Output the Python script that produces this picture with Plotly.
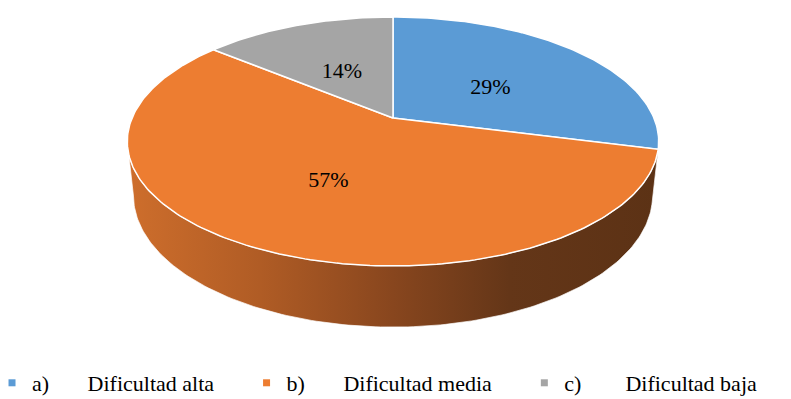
import numpy as np
import plotly.graph_objects as go

# Survey results: perceived difficulty
categories = ["a)", "b)", "c)"]
descriptions = ["Dificultad alta", "Dificultad media", "Dificultad baja"]
percentages = [29, 57, 14]

slice_colors = ["#5B9BD5", "#ED7D31", "#A5A5A5"]
side_scales = [
    [[0, "rgb(70,112,155)"], [1, "rgb(38,66,98)"]],
    [[0, "rgb(206,110,44)"], [0.25, "rgb(176,92,37)"], [0.5, "rgb(136,70,30)"],
     [0.72, "rgb(100,54,24)"], [1, "rgb(92,50,21)"]],
    [[0, "rgb(140,140,140)"], [1, "rgb(80,80,80)"]],
]

W, H = 791, 399
SERIF = "Liberation Serif"

# perspective camera for the 3-D pie (unit radius disc, top face at z=0)
CX, CY = 393.0, 118.0
FOCAL = 1229.0
DIST = 4.71
TILT = np.arcsin(0.46)
THICK = 0.235
LABEL_R = 0.5


def project(X, Y, Z):
    yc = Y * np.sin(TILT) + Z * np.cos(TILT)
    zc = DIST + Y * np.cos(TILT) - Z * np.sin(TILT)
    return CX + FOCAL * X / zc, CY - FOCAL * yc / zc


def arc(a_from, a_to, z, r=1.0):
    n = max(int(abs(a_to - a_from) / 1.0) + 2, 3)
    t = np.radians(np.linspace(a_from, a_to, n))
    return project(r * np.cos(t), r * np.sin(t), np.full(n, z))


total = float(sum(percentages))
cum = np.concatenate([[0.0], np.cumsum(percentages) / total])
# first slice starts at 12 o'clock, slices run clockwise
starts = 90.0 - 360.0 * cum[:-1]
ends = 90.0 - 360.0 * cum[1:]

# visible part of the rim (between the two silhouette points)
half = np.degrees(np.arccos(np.cos(TILT) / DIST))
vis_lo, vis_hi = -90.0 - half, -90.0 + half

fig = go.Figure()

# side walls
for i in range(len(percentages)):
    lo = max(ends[i], vis_lo)
    hi = min(starts[i], vis_hi)
    if lo >= hi:
        continue
    xt, yt = arc(hi, lo, 0.0)
    xb, yb = arc(lo, hi, -THICK)
    xs = np.concatenate([xt, xb, xt[:1]])
    ys = np.concatenate([yt, yb, yt[:1]])
    fig.add_trace(go.Scatter(
        x=xs, y=ys, mode="lines", fill="toself",
        fillgradient=dict(type="horizontal", colorscale=side_scales[i]),
        line=dict(color="rgba(255,255,255,0.85)", width=0.8),
        hoverinfo="skip", showlegend=False))

# top faces
for i in range(len(percentages)):
    xa, ya = arc(starts[i], ends[i], 0.0)
    x0, y0 = project(0.0, 0.0, 0.0)
    xs = np.concatenate([[x0], xa, [x0]])
    ys = np.concatenate([[y0], ya, [y0]])
    fig.add_trace(go.Scatter(
        x=xs, y=ys, mode="lines", fill="toself", fillcolor=slice_colors[i],
        line=dict(color="white", width=1.5),
        hoverinfo="skip", showlegend=False))

# percentage labels
mid = np.radians((starts + ends) / 2.0)
lx, ly = project(LABEL_R * np.cos(mid), LABEL_R * np.sin(mid), np.zeros(len(mid)))
fig.add_trace(go.Scatter(
    x=lx, y=ly + 5, mode="text",
    text=[f"{p}%" for p in percentages],
    textfont=dict(family=SERIF, size=22, color="black"),
    hoverinfo="skip", showlegend=False))

# legend entries: tab-like gap after the letter, padding before the next entry
nb = "\u00a0"
lead_gaps = [7, 7, 8]
trail_gaps = [5, 5, 0]
for cat, desc, col, lg, tg in zip(categories, descriptions, slice_colors, lead_gaps, trail_gaps):
    fig.add_trace(go.Scatter(
        x=[None], y=[None], mode="markers",
        marker=dict(symbol="square", size=7, color=col),
        name=f"{cat}{nb * lg}{desc}{nb * tg}", showlegend=True))

fig.update_layout(
    width=W, height=H,
    margin=dict(l=0, r=0, t=0, b=0, autoexpand=False),
    paper_bgcolor="white", plot_bgcolor="white",
    font=dict(family=SERIF, color="black"),
    xaxis=dict(range=[0, W], visible=False, fixedrange=True),
    yaxis=dict(range=[H, 0], visible=False, fixedrange=True),
    hovermode=False,
    legend=dict(
        orientation="h", x=-0.0101, xanchor="left", y=-0.0125, yanchor="bottom",
        font=dict(family=SERIF, size=22, color="black"),
        bgcolor="rgba(0,0,0,0)", itemwidth=30, tracegroupgap=0,
    ),
)

fig.write_html("out.html")
